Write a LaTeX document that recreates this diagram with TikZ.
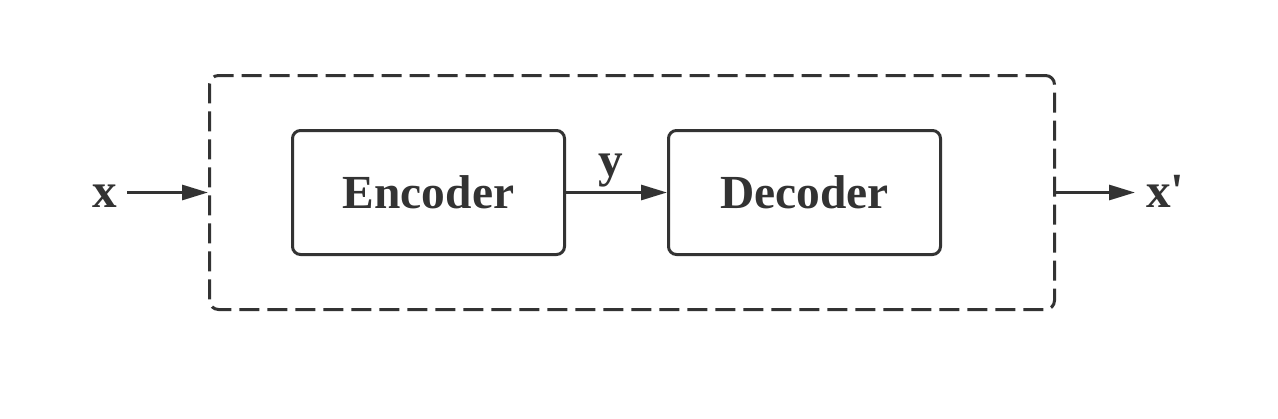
\documentclass[tikz,border=0pt]{standalone}
\usepackage{fontspec}
\setmainfont{Liberation Serif}
\usepackage{tikz}
\usetikzlibrary{arrows.meta,positioning}
\definecolor{ink}{HTML}{333333}

\begin{document}
\begin{tikzpicture}[
	box/.style={draw=ink, line width=0.06cm, rounded corners=0.16cm, minimum width=5.44cm, minimum height=2.48cm, text=ink, font=\fontsize{27}{30}\selectfont\bfseries},
	frame/.style={draw=ink, line width=0.06cm, rounded corners=0.18cm, dash pattern=on 0.4cm off 0.16cm, minimum width=16.9cm, minimum height=4.68cm},
	lbl/.style={text=ink, font=\fontsize{28}{30}\selectfont\bfseries\addfontfeature{Ligatures=TeXOff}, text height=0.43cm, text depth=0cm},
	arr/.style={draw=ink, line width=0.06cm, -{Triangle[length=0.52cm,width=0.3cm]}}
]
	\useasboundingbox (0,0) rectangle (25.56,8.36);

	% outer dashed frame and the two blocks
	\node[frame] (frame) at (12.64,4.51) {};
	\node[box] (enc) at (8.57,4.51) {Encoder};
	\node[box] (dec) at (16.09,4.51) {Decoder};

	% input and output
	\node[lbl, anchor=east, inner sep=0.2cm] (x) at (2.54,4.43) {x};
	\node[lbl, anchor=west, inner sep=0.22cm] (xp) at (22.7,4.43) {x'};

	\draw[arr] (x.east |- frame.west) -- (frame.west);
	\draw[arr] (enc.east) -- node[lbl, above, text depth=0.2cm, inner sep=0.1cm, xshift=-0.12cm] (y) {y} (dec.west);
	\draw[arr] (frame.east) -- (frame.east -| xp.west);
\end{tikzpicture}
\end{document}
